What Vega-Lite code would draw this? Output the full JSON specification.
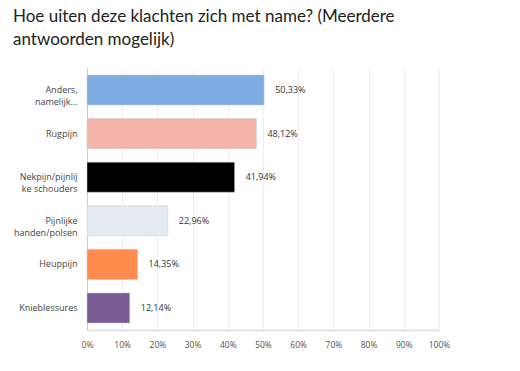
{
  "$schema": "https://vega.github.io/schema/vega-lite/v6.json",
  "width": 352,
  "height": 262,
  "autosize": "none",
  "padding": {"left": 87, "top": 68, "right": 81, "bottom": 41},
  "background": "white",
  "title": {
    "text": ["Hoe uiten deze klachten zich met name? (Meerdere", "antwoorden mogelijk)"],
    "anchor": "start",
    "frame": "group",
    "dx": -74,
    "offset": 19,
    "font": "Lato",
    "fontSize": 17,
    "fontWeight": "normal",
    "color": "#222222",
    "lineHeight": 23
  },
  "data": {
    "values": [
      {"klacht": "Anders,\nnamelijk...", "pct": 50.33, "label": "50,33%", "kleur": "#7FACE3"},
      {"klacht": "Rugpijn", "pct": 48.12, "label": "48,12%", "kleur": "#F4B4A9"},
      {"klacht": "Nekpijn/pijnlij\nke schouders", "pct": 41.94, "label": "41,94%", "kleur": "#000000"},
      {"klacht": "Pijnlijke\nhanden/polsen", "pct": 22.96, "label": "22,96%", "kleur": "#E3EAF2"},
      {"klacht": "Heuppijn", "pct": 14.35, "label": "14,35%", "kleur": "#FF8B4E"},
      {"klacht": "Knieblessures", "pct": 12.14, "label": "12,14%", "kleur": "#7B5C92"}
    ]
  },
  "encoding": {
    "y": {
      "field": "klacht",
      "type": "nominal",
      "sort": null,
      "scale": {"paddingInner": 0.31, "paddingOuter": 0.16},
      "axis": {
        "title": null,
        "labelExpr": "split(datum.label, '\\n')",
        "labelFont": "Open Sans",
        "labelFontSize": 9,
        "labelColor": "#444444",
        "labelPadding": 10,
        "labelLineHeight": 12,
        "labelBaseline": "middle",
        "ticks": false,
        "domainColor": "#CCCCCC",
        "grid": false
      }
    },
    "x": {
      "field": "pct",
      "type": "quantitative",
      "scale": {"domain": [0, 100]},
      "axis": {
        "title": null,
        "values": [0, 10, 20, 30, 40, 50, 60, 70, 80, 90, 100],
        "labelExpr": "datum.value + '%'",
        "labelOverlap": false,
        "labelFlush": false,
        "labelFont": "Open Sans",
        "labelFontSize": 8.5,
        "labelColor": "#555555",
        "labelPadding": 10,
        "ticks": false,
        "domainColor": "#E2E2E2",
        "domainWidth": 2,
        "gridColor": "#EEEEEE",
        "gridWidth": 1
      }
    }
  },
  "layer": [
    {
      "mark": {"type": "bar", "stroke": "#CCCCCC", "strokeWidth": 0.5},
      "encoding": {
        "color": {"field": "kleur", "type": "nominal", "scale": null}
      }
    },
    {
      "mark": {"type": "text", "align": "left", "dx": 11, "font": "Open Sans", "fontSize": 9, "color": "#333333"},
      "encoding": {
        "text": {"field": "label"}
      }
    }
  ],
  "config": {"view": {"stroke": null}}
}
